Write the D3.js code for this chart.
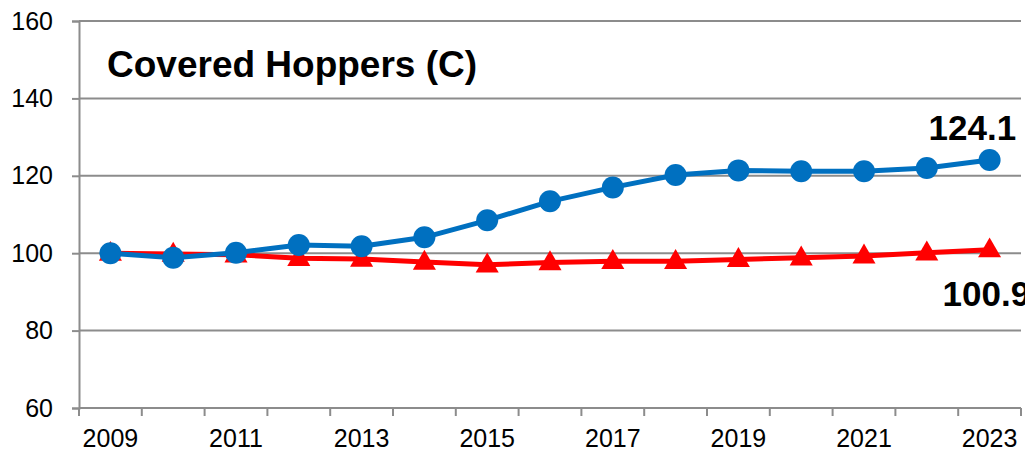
<!DOCTYPE html>
<html>
<head>
<meta charset="utf-8">
<script src="https://cdn.jsdelivr.net/npm/d3@7"></script>
<style>
  body { margin: 0; background: #fff; }
  svg { display: block; font-family: "Liberation Sans", Arial, sans-serif; }
</style>
</head>
<body>
<div id="vis"></div>
<script>
// Data
const YEARS = ["2009", "2010", "2011", "2012", "2013", "2014", "2015", "2016",
               "2017", "2018", "2019", "2020", "2021", "2022", "2023"];
const BLUE_VALUES = [100, 98.8, 100.1, 102.1, 101.8, 104.1, 108.5, 113.4,
                     117.0, 120.2, 121.4, 121.2, 121.2, 122.0, 124.1];
const RED_VALUES = [100, 99.8, 99.6, 98.7, 98.5, 97.7, 97.0, 97.6,
                    97.9, 97.9, 98.4, 98.8, 99.3, 100.1, 100.9];
const Y_TICKS = [60, 80, 100, 120, 140, 160];
const TITLE = "Covered Hoppers (C)";

// Frame and margins
const FRAME_WIDTH = 1025;
const FRAME_HEIGHT = 455;
const MARGINS = {left: 79, right: 4, top: 21, bottom: 47};
const VIS_WIDTH = FRAME_WIDTH - MARGINS.left - MARGINS.right;
const VIS_HEIGHT = FRAME_HEIGHT - MARGINS.top - MARGINS.bottom;

const FRAME = d3.select("#vis")
  .append("svg")
    .attr("width", FRAME_WIDTH)
    .attr("height", FRAME_HEIGHT);

// Scales
const X_SCALE = d3.scaleBand()
  .domain(YEARS)
  .range([0, VIS_WIDTH]);

const Y_SCALE = d3.scaleLinear()
  .domain([60, 160])
  .range([VIS_HEIGHT, 0]);

const G = FRAME.append("g")
  .attr("transform", "translate(" + MARGINS.left + "," + MARGINS.top + ")");

// Horizontal gridlines
G.append("g")
  .selectAll("line")
  .data(Y_TICKS.filter(d => d > 60))
  .enter()
  .append("line")
    .attr("x1", 0)
    .attr("x2", VIS_WIDTH)
    .attr("y1", d => Y_SCALE(d))
    .attr("y2", d => Y_SCALE(d))
    .attr("stroke", "#8c8c8c")
    .attr("stroke-width", 2);

// Y axis
const yAxis = G.append("g")
  .call(d3.axisLeft(Y_SCALE).tickValues(Y_TICKS).tickSize(7).tickPadding(19));
yAxis.select(".domain").attr("stroke", "#8c8c8c").attr("stroke-width", 2);
yAxis.selectAll(".tick line").attr("stroke", "#8c8c8c").attr("stroke-width", 2);
yAxis.selectAll("text")
  .attr("font-size", "25px")
  .attr("font-family", "'Liberation Sans', Arial, sans-serif")
  .attr("fill", "#000");

// X axis: ticks between categories, labels every other year
const xAxisG = G.append("g")
  .attr("transform", "translate(0," + VIS_HEIGHT + ")");
xAxisG.append("line")
  .attr("x1", 0).attr("x2", VIS_WIDTH)
  .attr("stroke", "#8c8c8c").attr("stroke-width", 2);
xAxisG.selectAll(".xtick")
  .data(YEARS.concat(["end"]))
  .enter()
  .append("line")
    .attr("class", "xtick")
    .attr("x1", (d, i) => i * X_SCALE.step())
    .attr("x2", (d, i) => i * X_SCALE.step())
    .attr("y1", 0)
    .attr("y2", 8)
    .attr("stroke", "#8c8c8c")
    .attr("stroke-width", 2);
xAxisG.selectAll(".xlabel")
  .data(YEARS.filter((d, i) => i % 2 === 0))
  .enter()
  .append("text")
    .attr("class", "xlabel")
    .attr("x", d => X_SCALE(d) + X_SCALE.bandwidth() / 2)
    .attr("y", 39)
    .attr("text-anchor", "middle")
    .attr("font-size", "25px")
    .attr("fill", "#000")
    .text(d => d);

const cx = (d, i) => X_SCALE(YEARS[i]) + X_SCALE.bandwidth() / 2;

const line = d3.line()
  .x((d, i) => cx(d, i))
  .y(d => Y_SCALE(d));

// Red series with triangle markers
G.append("path")
  .datum(RED_VALUES)
  .attr("d", line)
  .attr("fill", "none")
  .attr("stroke", "#ff0000")
  .attr("stroke-width", 5)
  .attr("stroke-linejoin", "round");

G.append("g")
  .selectAll("path")
  .data(RED_VALUES)
  .enter()
  .append("path")
    .attr("d", d3.symbol().type(d3.symbolTriangle).size(230))
    .attr("transform", (d, i) => "translate(" + cx(d, i) + "," + (Y_SCALE(d) + 1) + ")")
    .attr("fill", "#ff0000");

// Blue series with circle markers
G.append("path")
  .datum(BLUE_VALUES)
  .attr("d", line)
  .attr("fill", "none")
  .attr("stroke", "#0070c0")
  .attr("stroke-width", 5)
  .attr("stroke-linejoin", "round");

G.append("g")
  .selectAll("circle")
  .data(BLUE_VALUES)
  .enter()
  .append("circle")
    .attr("cx", (d, i) => cx(d, i))
    .attr("cy", d => Y_SCALE(d))
    .attr("r", 11)
    .attr("fill", "#0070c0");

// Title
FRAME.append("text")
  .attr("x", 107)
  .attr("y", 77)
  .attr("font-size", "37px")
  .attr("font-weight", "bold")
  .attr("fill", "#000")
  .text(TITLE);

// End value labels
const last = YEARS.length - 1;
G.append("text")
  .attr("x", cx(0, last) - 61)
  .attr("y", Y_SCALE(BLUE_VALUES[last]) - 20)
  .attr("font-size", "35px")
  .attr("font-weight", "bold")
  .attr("fill", "#000")
  .text(BLUE_VALUES[last].toFixed(1));

G.append("text")
  .attr("x", cx(0, last) - 47)
  .attr("y", Y_SCALE(RED_VALUES[last]) + 56)
  .attr("font-size", "35px")
  .attr("font-weight", "bold")
  .attr("fill", "#000")
  .text(RED_VALUES[last].toFixed(1));
</script>
</body>
</html>
